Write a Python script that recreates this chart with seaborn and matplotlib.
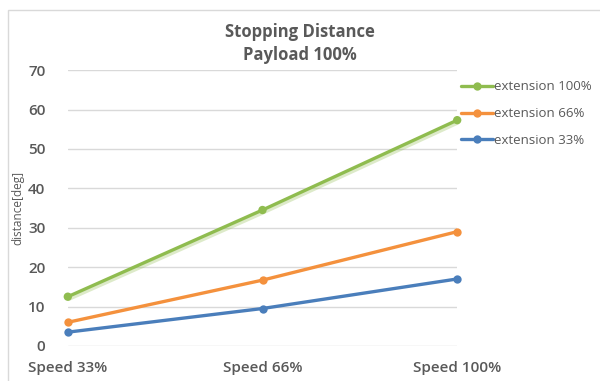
import matplotlib
matplotlib.use("Agg")
from matplotlib import pyplot as plt
import matplotlib.patheffects as pe
from matplotlib.patches import Rectangle
import pandas as pd
import seaborn as sns

# data
speeds = ["Speed 33%", "Speed 66%", "Speed 100%"]
series_names = ["extension 100%", "extension 66%", "extension 33%"]
ext_100 = [12.5, 34.5, 57.3]
ext_66 = [6.0, 16.7, 29.0]
ext_33 = [3.5, 9.5, 17.0]
colors = ["#8fbc4f", "#f4913d", "#4a7ebb"]

rows = []
for name, vals in zip(series_names, [ext_100, ext_66, ext_33]):
    for i, v in enumerate(vals):
        rows.append({"pos": i, "speed": speeds[i], "series": name, "value": v})
df = pd.DataFrame(rows)

sns.set_theme(style="white")
plt.rcParams["font.family"] = ["Open Sans", "DejaVu Sans"]

fig = plt.figure(figsize=(6, 3.81), dpi=100)
ax = fig.add_axes([0.113, 0.092, 0.649, 0.724])

sns.lineplot(data=df, x="pos", y="value", hue="series", hue_order=series_names,
             palette=colors, marker="o", markersize=6, markeredgewidth=0,
             linewidth=2.4, ax=ax, clip_on=False, zorder=3)

# soft shadow under the top series
ax.lines[0].set_path_effects([pe.SimpleLineShadow(offset=(0.5, -2), shadow_color="#8fbc4f", alpha=0.3),
                              pe.Normal()])

ax.set_xlim(0, 2)
ax.set_ylim(0, 70)
ax.set_yticks(range(0, 71, 10))
ax.set_xticks(range(len(speeds)))
ax.set_xticklabels(speeds)
ax.grid(axis="y", color="#d9d9d9", linewidth=1)
ax.set_axisbelow(True)
for s in ax.spines.values():
    s.set_visible(False)
ax.tick_params(axis="both", length=0, labelsize=11, labelcolor="#595959")
ax.tick_params(axis="x", pad=11)
ax.tick_params(axis="y", pad=16)
for lab in ax.get_xticklabels() + ax.get_yticklabels():
    lab.set_fontweight("semibold")
ax.set_xlabel("")
ax.set_ylabel("distance[deg]", fontsize=8.5, color="#595959", labelpad=3)

fig.text(0.5, 0.885, "Stopping Distance\nPayload 100%", ha="center", va="center",
         fontsize=12, fontweight="bold", color="#595959", linespacing=1.35)

ax.legend(loc="center left", bbox_to_anchor=(1.01, 0.842), frameon=False,
          fontsize=9.5, labelcolor="#595959", handlelength=2.4, handletextpad=0.12,
          labelspacing=1.05, borderaxespad=0.0, borderpad=0.0)

fig.patches.append(Rectangle((0.013, -0.01), 0.99, 0.984, transform=fig.transFigure,
                             fill=False, edgecolor="#d9d9d9", linewidth=1))

fig.savefig("out.png", dpi=100)
